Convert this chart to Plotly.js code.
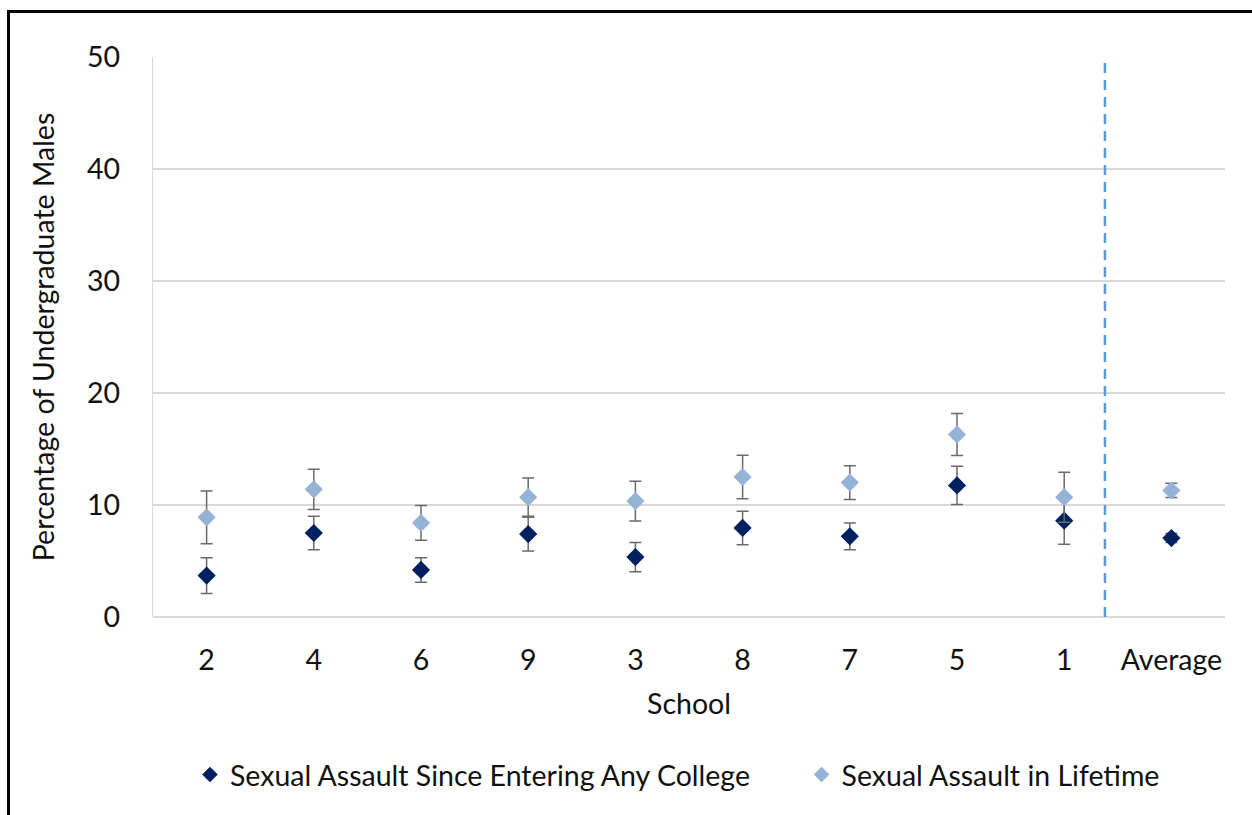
<!DOCTYPE html>
<html>
<head>
<meta charset="utf-8">
<script src="https://cdn.plot.ly/plotly-3.0.1.min.js"></script>
<style>
  html, body { margin: 0; padding: 0; background: #fff; }
  #chart { width: 1252px; height: 815px; }
  #frame { position: absolute; left: 7px; top: 10px; width: 1245px; height: 805px;
           border-left: 3px solid #000; border-top: 3px solid #000; pointer-events: none; }
</style>
</head>
<body>
<div id="chart"></div>
<div id="frame"></div>
<script>
// ---- data ----
const schools = ['2', '4', '6', '9', '3', '8', '7', '5', '1', 'Average'];
const sinceCollege = [3.7, 7.5, 4.2, 7.4, 5.35, 7.95, 7.2, 11.75, 8.6, 7.05];
const sinceCollegeErr = [1.6, 1.5, 1.1, 1.5, 1.3, 1.5, 1.2, 1.7, 2.1, 0.4];
const lifetime = [8.9, 11.4, 8.4, 10.7, 10.35, 12.5, 12.0, 16.3, 10.7, 11.3];
const lifetimeErr = [2.35, 1.8, 1.55, 1.7, 1.77, 1.95, 1.5, 1.87, 2.23, 0.64];
const seriesNames = ['Sexual Assault Since Entering Any College', 'Sexual Assault in Lifetime'];
const yTicks = [0, 10, 20, 30, 40, 50];
const dividerPosition = 8.38; // category-index position of the dashed separator

const FONT = 'Lato, "Open Sans", sans-serif';
const TXT = '#111111';
const FS = 28.5;
const errStyle = { type: 'data', visible: true, color: '#6a6a6a', thickness: 1.5, width: 6 };

const traces = [
  {
    type: 'scatter', mode: 'markers', name: seriesNames[0], legend: 'legend',
    x: schools, y: sinceCollege,
    error_y: Object.assign({ array: sinceCollegeErr }, errStyle),
    marker: { symbol: 'diamond', size: 14, color: '#002060' }
  },
  {
    type: 'scatter', mode: 'markers', name: seriesNames[1], legend: 'legend2',
    x: schools, y: lifetime,
    error_y: Object.assign({ array: lifetimeErr }, errStyle),
    marker: { symbol: 'diamond', size: 14, color: '#95B3D7' }
  }
];

const legendBase = {
  orientation: 'h', xanchor: 'left', y: -0.282, yanchor: 'middle',
  bgcolor: 'rgba(0,0,0,0)',
  font: { family: FONT, size: FS, color: TXT }, itemsizing: 'constant'
};

const layout = {
  width: 1252, height: 815,
  paper_bgcolor: '#ffffff', plot_bgcolor: '#ffffff',
  margin: { l: 153, r: 27, t: 57, b: 198 },
  font: { family: FONT, color: TXT, size: FS },
  showlegend: true,
  legend: Object.assign({ x: 0.0345 }, legendBase),
  legend2: Object.assign({ x: 0.605 }, legendBase),
  xaxis: {
    type: 'category', categoryorder: 'array', categoryarray: schools,
    range: [-0.5, schools.length - 0.5],
    showgrid: false, zeroline: false, showline: false,
    ticks: 'outside', ticklen: 18, tickcolor: 'rgba(0,0,0,0)',
    tickfont: { family: FONT, size: FS, color: TXT },
    title: { text: 'School', font: { family: FONT, size: FS, color: TXT }, standoff: 18 }
  },
  yaxis: {
    range: [0, 50], tickvals: yTicks, ticktext: yTicks.map(String),
    showgrid: true, gridcolor: '#d9d9d9', gridwidth: 1.3,
    zeroline: true, zerolinecolor: '#d9d9d9', zerolinewidth: 1.3,
    showline: true, linecolor: '#d9d9d9', linewidth: 1.3,
    ticks: 'outside', ticklen: 26, tickcolor: 'rgba(0,0,0,0)',
    tickfont: { family: FONT, size: FS, color: TXT },
    title: { text: 'Percentage of Undergraduate Males', font: { family: FONT, size: FS, color: TXT }, standoff: 24 }
  },
  shapes: [{
    type: 'line', xref: 'x', yref: 'paper',
    x0: dividerPosition, x1: dividerPosition, y0: 0, y1: 1,
    line: { color: '#5B9BD5', width: 2.5, dash: '10px,7px' }
  }]
};

Plotly.newPlot('chart', traces, layout, { staticPlot: true, displayModeBar: false });
</script>
</body>
</html>
